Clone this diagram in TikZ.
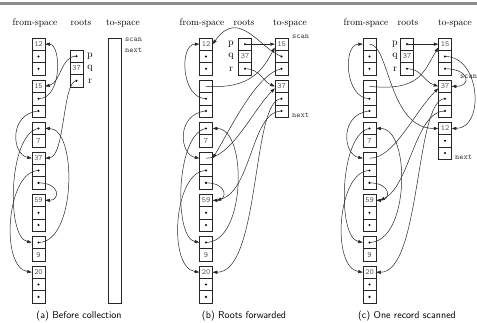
\documentclass[tikz,border=0pt]{standalone}
\usetikzlibrary{arrows.meta}
\newcommand\rec[4]{\foreach \kind/\txt [count=\i] in {#4} {\node[cell,\kind] (#1-\i) at (#2,{#3+(\i-0.5)*12.3}) {\txt};}}
\begin{document}
\begin{tikzpicture}[x=1pt,y=-1pt,
 cell/.style={draw=black!85, fill=white, line width=0.5pt, minimum width=13pt, minimum height=12.3pt, inner sep=0pt, font=\fontsize{8}{8}\selectfont\ttfamily, text=black!65},
 numc/.style={},
 blankc/.style={},
 dotc/.style={path picture={\fill[black] (path picture bounding box.center) circle (1.15pt);}},
 ptr/.style={draw=black!85, line width=0.5pt, -{Triangle[length=4.5pt,width=3.2pt]}},
 hdr/.style={font=\fontsize{9.5}{11}\selectfont, inner sep=0pt},
 capt/.style={font=\fontsize{10}{12}\selectfont\sffamily, inner sep=0pt},
 lbl/.style={font=\fontsize{10}{12}\selectfont, inner sep=0pt},
 tl/.style={font=\fontsize{8}{8}\selectfont\ttfamily, anchor=west, inner sep=0pt, text=black!75}]
\useasboundingbox (0,0) rectangle (477,322);
\fill[black!45] (0,1.5) rectangle (477,4.5);

% ---------------- panel (a)
\node[hdr] (Ah1) at (35,23) {from-space};
\node[hdr] (Ah2) at (81,23) {roots};
\node[hdr] (Ah3) at (123,23) {to-space};
\rec{Af12}{38.5}{38}{numc/12, dotc/{}, dotc/{}}
\rec{Af15}{38.5}{80.2}{numc/15, dotc/{}, dotc/{}}
\rec{Af7}{38.5}{122.3}{dotc/{}, numc/7}
\rec{Af37}{38.5}{152.1}{numc/37, dotc/{}, dotc/{}}
\rec{Af59}{38.5}{194.2}{numc/59, dotc/{}, dotc/{}}
\rec{Af9}{38.5}{236.3}{dotc/{}, numc/9}
\rec{Af20}{38.5}{266.1}{numc/20, dotc/{}, dotc/{}}
\rec{Ar}{76.5}{50}{dotc/{}, numc/37, dotc/{}}
\node[lbl] (Alp) at (90,56.2) {p};
\node[lbl] (Alq) at (90,68.5) {q};
\node[lbl] (Alr) at (90,80.8) {r};
\node[draw=black!85, line width=0.5pt, minimum width=13pt, minimum height=265pt, inner sep=0pt] (Ato) at (114.5,170.5) {};
\node[tl] (Ascan) at (125,39.5) {scan};
\node[tl] (Anext) at (125,50.5) {next};
\node[capt] (Acap) at (79,316) {(a) Before collection};

\draw[ptr] (Ar-1.center) .. controls +(-16,0) and +(16,-4) .. (Af15-1.east);
\draw[ptr] (Af15-2.center) .. controls +(24,0) and +(16,0) .. (Af12-1.east);
\draw[ptr] (Af15-3.center) .. controls +(-30,3) and +(-20,-4) .. (Af37-1.west);
\draw[ptr] (Af7-1.center) .. controls +(-30,5) and +(-26,-5) .. (Af9-1.west);
\draw[ptr] (Af37-2.center) .. controls +(-32,0) and +(-32,-5) .. (Af20-1.west);
\draw[ptr] (Af37-3.center) .. controls +(22,0) and +(15,0) .. (Af59-1.east);
\draw[ptr] (Ar-3.center) .. controls +(-14,0) and +(20,-2) .. (Af37-1.east);
\draw[ptr] (Af9-1.center) .. controls +(38,0) and +(32,0) .. (Af7-1.east);

% ---------------- panel (b)
\node[hdr] (Bh1) at (202,23) {from-space};
\node[hdr] (Bh2) at (244,23) {roots};
\node[hdr] (Bh3) at (290,23) {to-space};
\rec{Bf12}{206}{38}{numc/12, dotc/{}, dotc/{}}
\rec{Bf15}{206}{80.2}{blankc/{}, dotc/{}, dotc/{}}
\rec{Bf7}{206}{122.3}{dotc/{}, numc/7}
\rec{Bf37}{206}{152.1}{blankc/{}, dotc/{}, dotc/{}}
\rec{Bf59}{206}{194.2}{numc/59, dotc/{}, dotc/{}}
\rec{Bf9}{206}{236.3}{dotc/{}, numc/9}
\rec{Bf20}{206}{266.1}{numc/20, dotc/{}, dotc/{}}
\rec{Br}{245}{38}{dotc/{}, numc/37, dotc/{}}
\rec{Bt15}{281.5}{38}{numc/15, dotc/{}, dotc/{}}
\rec{Bt37}{281.5}{80.2}{numc/37, dotc/{}, dotc/{}}
\node[lbl] (Blp) at (231,44.2) {p};
\node[lbl] (Blq) at (231,56.5) {q};
\node[lbl] (Blr) at (231,68.8) {r};
\node[tl] (Bscan) at (292,37) {scan};
\node[tl] (Bnext) at (292,115) {next};
\node[capt] (Bcap) at (244,316) {(b) Roots forwarded};

\draw[ptr] (Br-1.center) -- (Bt15-1.west);
\draw[ptr] (Br-3.center) .. controls +(15,0) and +(-12,-5) .. (Bt37-1.west);
\draw[ptr] (Bf15-1.center) .. controls +(45,3) and +(-12,22) .. ([yshift=3pt]Bt15-1.south west);
\draw[ptr] (Bf37-1.center) .. controls +(25,0) and +(-22,22) .. ([yshift=-2pt]Bt37-1.west);
\draw[ptr] (Bt15-2.center) .. controls +(-22,-8) and +(26,-37) .. (Bf12-1.east);
\draw[ptr] (Bt15-3.center) .. controls +(-25,5) and +(18,-30) .. (Bf37-1.east);
\draw[ptr] (Bt37-2.center) .. controls +(-30,0) and +(48,0) .. (Bf20-1.east);
\draw[ptr] (Bt37-3.center) .. controls +(-30,0) and +(35,-10) .. ([xshift=4pt]Bf59-1.east);
\draw[ptr] (Bf37-3.center) .. controls +(22,0) and +(15,0) .. (Bf59-1.east);
\draw[ptr] (Bf15-2.center) .. controls +(-25,0) and +(-20,0) .. (Bf12-1.west);
\draw[ptr] (Bf15-3.center) .. controls +(-30,3) and +(-20,-4) .. (Bf37-1.west);
\draw[ptr] (Bf7-1.center) .. controls +(-30,5) and +(-26,-5) .. (Bf9-1.west);
\draw[ptr] (Bf37-2.center) .. controls +(-32,0) and +(-32,-5) .. (Bf20-1.west);
\draw[ptr] (Bf9-1.center) .. controls +(40,0) and +(35,0) .. (Bf7-1.east);

% ---------------- panel (c)
\node[hdr] (Ch1) at (366,23) {from-space};
\node[hdr] (Ch2) at (408,23) {roots};
\node[hdr] (Ch3) at (455,23) {to-space};
\rec{Cf12}{369.5}{38}{blankc/{}, dotc/{}, dotc/{}}
\rec{Cf15}{369.5}{80.2}{blankc/{}, dotc/{}, dotc/{}}
\rec{Cf7}{369.5}{122.3}{dotc/{}, numc/7}
\rec{Cf37}{369.5}{152.1}{blankc/{}, dotc/{}, dotc/{}}
\rec{Cf59}{369.5}{194.2}{numc/59, dotc/{}, dotc/{}}
\rec{Cf9}{369.5}{236.3}{dotc/{}, numc/9}
\rec{Cf20}{369.5}{266.1}{numc/20, dotc/{}, dotc/{}}
\rec{Cr}{407}{38}{dotc/{}, numc/37, dotc/{}}
\rec{Ct15}{445}{38}{numc/15, dotc/{}, dotc/{}}
\rec{Ct37}{445}{80.2}{numc/37, dotc/{}, dotc/{}}
\rec{Ct12}{445}{122.3}{numc/12, dotc/{}, dotc/{}}
\node[lbl] (Clp) at (395,44.2) {p};
\node[lbl] (Clq) at (395,56.5) {q};
\node[lbl] (Clr) at (395,68.8) {r};
\node[tl] (Cscan) at (460,76.5) {scan};
\node[tl] (Cnext) at (455,157) {next};
\node[capt] (Ccap) at (407,316) {(c) One record scanned};

\draw[ptr] (Cr-1.center) -- (Ct15-1.west);
\draw[ptr] (Cr-3.center) .. controls +(15,0) and +(-15,-5) .. (Ct37-1.west);
\draw[ptr] (Cf12-1.center) .. controls +(20,0) and +(-50,0) .. (Ct12-1.west);
\draw[ptr] (Cf15-1.center) .. controls +(50,5) and +(-15,25) .. ([yshift=3pt]Ct15-1.south west);
\draw[ptr] (Cf37-1.center) .. controls +(25,0) and +(-25,25) .. ([yshift=-2pt]Ct37-1.west);
\draw[ptr] (Ct15-2.center) .. controls +(36,0) and +(33,0) .. (Ct12-1.east);
\draw[ptr] (Ct15-3.center) .. controls +(25,0) and +(20,0) .. (Ct37-1.east);
\draw[ptr] (Ct37-2.center) .. controls +(-30,0) and +(45,0) .. (Cf20-1.east);
\draw[ptr] (Ct37-3.center) .. controls +(-30,0) and +(30,-15) .. ([xshift=4pt]Cf59-1.east);
\draw[ptr] (Cf37-3.center) .. controls +(22,0) and +(15,0) .. (Cf59-1.east);
\draw[ptr] (Cf15-2.center) .. controls +(-25,0) and +(-20,0) .. (Cf12-1.west);
\draw[ptr] (Cf15-3.center) .. controls +(-30,3) and +(-20,-4) .. (Cf37-1.west);
\draw[ptr] (Cf7-1.center) .. controls +(-30,5) and +(-26,-5) .. (Cf9-1.west);
\draw[ptr] (Cf37-2.center) .. controls +(-32,0) and +(-32,-5) .. (Cf20-1.west);
\draw[ptr] (Cf9-1.center) .. controls +(40,0) and +(35,0) .. (Cf7-1.east);
\end{tikzpicture}
\end{document}
